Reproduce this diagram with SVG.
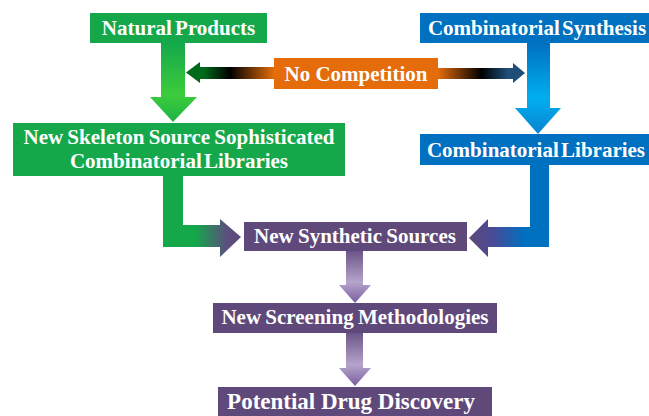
<svg xmlns="http://www.w3.org/2000/svg" width="649" height="416" viewBox="0 0 649 416">
<defs>
<style>
.t{font-family:"Liberation Serif","Times New Roman",serif;font-weight:bold;fill:#ffffff;text-anchor:middle;font-size:21px}
.g{fill:#14a84b}
.b{fill:#0070c0}
.o{fill:#e46c0a}
.p{fill:#5f497a}
</style>
<linearGradient id="gDown" x1="0" y1="43" x2="0" y2="122" gradientUnits="userSpaceOnUse">
<stop offset="0" stop-color="#14a84b"/><stop offset="0.65" stop-color="#3ccc3c"/><stop offset="1" stop-color="#1fb347"/>
</linearGradient>
<linearGradient id="bDown" x1="0" y1="43" x2="0" y2="134" gradientUnits="userSpaceOnUse">
<stop offset="0" stop-color="#0070c0"/><stop offset="0.6" stop-color="#00aeef"/><stop offset="1" stop-color="#0a84d0"/>
</linearGradient>
<linearGradient id="leftC" x1="186" y1="0" x2="274" y2="0" gradientUnits="userSpaceOnUse">
<stop offset="0" stop-color="#006a1a"/><stop offset="0.2" stop-color="#006a1a"/><stop offset="0.5" stop-color="#000000"/><stop offset="1" stop-color="#e46c0a"/>
</linearGradient>
<linearGradient id="rightC" x1="438" y1="0" x2="525" y2="0" gradientUnits="userSpaceOnUse">
<stop offset="0" stop-color="#e46c0a"/><stop offset="0.5" stop-color="#000000"/><stop offset="0.8" stop-color="#1f4e79"/><stop offset="1" stop-color="#1f4e79"/>
</linearGradient>
<linearGradient id="gElbow" x1="195" y1="0" x2="240" y2="0" gradientUnits="userSpaceOnUse">
<stop offset="0" stop-color="#14a84b"/><stop offset="0.7" stop-color="#5a4f7e"/><stop offset="1" stop-color="#5f497a"/>
</linearGradient>
<linearGradient id="bElbow" x1="525" y1="0" x2="470" y2="0" gradientUnits="userSpaceOnUse">
<stop offset="0" stop-color="#0070c0"/><stop offset="0.6" stop-color="#4a4a96"/><stop offset="1" stop-color="#5f497a"/>
</linearGradient>
<linearGradient id="pDown1" x1="0" y1="251" x2="0" y2="303" gradientUnits="userSpaceOnUse">
<stop offset="0" stop-color="#6b5587"/><stop offset="0.6" stop-color="#b5a4cb"/><stop offset="1" stop-color="#7a5f9e"/>
</linearGradient>
<linearGradient id="pDown2" x1="0" y1="333" x2="0" y2="386" gradientUnits="userSpaceOnUse">
<stop offset="0" stop-color="#6b5587"/><stop offset="0.6" stop-color="#b5a4cb"/><stop offset="1" stop-color="#7a5f9e"/>
</linearGradient>
</defs>
<rect width="649" height="416" fill="#ffffff"/>
<g id="connectors">
<path d="M161,43 L185,43 L185,97 L197,97 L173,122 L150,97 L161,97 Z" fill="url(#gDown)"/>
<path d="M527,43 L550,43 L550,108 L561,108 L538,134 L515,108 L527,108 Z" fill="url(#bDown)"/>
<path d="M274,67 L200,67 L200,62 L186,72.5 L200,83 L200,79 L274,79 Z" fill="url(#leftC)"/>
<path d="M438,68 L513,68 L513,63 L525,73 L513,83 L513,79 L438,79 Z" fill="url(#rightC)"/>
<path d="M163,176 L183,176 L183,225 L220,225 L220,219 L241,237 L220,257 L220,247 L163,247 Z" fill="url(#gElbow)"/>
<path d="M530,165 L549,165 L549,247 L488,247 L488,257 L469,238 L488,219 L488,227 L530,227 Z" fill="url(#bElbow)"/>
<path d="M346,251 L363,251 L363,285 L371,285 L355,303 L339,285 L346,285 Z" fill="url(#pDown1)"/>
<path d="M346,333 L363,333 L363,368 L371,368 L355,386 L339,368 L346,368 Z" fill="url(#pDown2)"/>
</g>
<g id="natural-products">
<rect class="g" x="90" y="13" width="177" height="30"/>
<text class="t" x="178.5" y="35" word-spacing="-2">Natural Products</text>
</g>
<g id="combinatorial-synthesis">
<rect class="b" x="420" y="13" width="229" height="30"/>
<text class="t" x="537" y="35" word-spacing="-3">Combinatorial Synthesis</text>
</g>
<g id="no-competition">
<rect class="o" x="274" y="58" width="164" height="31"/>
<text class="t" x="356" y="81">No Competition</text>
</g>
<g id="new-skeleton">
<rect class="g" x="13" y="123" width="332" height="53"/>
<text class="t" x="179" y="144" word-spacing="-1">New Skeleton Source Sophisticated</text>
<text class="t" x="179" y="168" word-spacing="-3">Combinatorial Libraries</text>
</g>
<g id="combinatorial-libraries">
<rect class="b" x="420" y="134" width="229" height="31"/>
<text class="t" x="536" y="157" word-spacing="-3">Combinatorial Libraries</text>
</g>
<g id="new-synthetic-sources">
<rect class="p" x="244" y="222" width="223" height="29"/>
<text class="t" x="355" y="243" word-spacing="-1">New Synthetic Sources</text>
</g>
<g id="new-screening">
<rect class="p" x="213" y="303" width="284" height="30"/>
<text class="t" x="355" y="324" word-spacing="-1">New Screening Methodologies</text>
</g>
<g id="potential-drug">
<rect class="p" x="218" y="387" width="274" height="29"/>
<text class="t" x="351" y="409" style="font-size:23px">Potential Drug Discovery</text>
</g>
</svg>
